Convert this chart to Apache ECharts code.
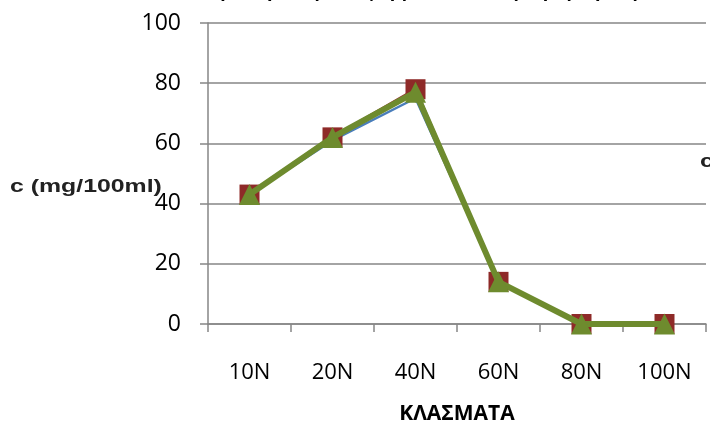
<!DOCTYPE html>
<html>
<head>
<meta charset="utf-8">
<style>
  html, body { margin: 0; padding: 0; background: #fff; }
  #chart { width: 710px; height: 430px; }
</style>
<script src="https://cdn.jsdelivr.net/npm/echarts@6/dist/echarts.min.js"></script>
</head>
<body>
<div id="chart"></div>
<script>
// Fractions on the category axis
const categories = ['10N', '20N', '40N', '60N', '80N', '100N'];
// Concentration per fraction, c (mg/100ml)
const seriesBlue = [43, 61, 75, 14, 0, 0];
const seriesRed = [43, 62, 78, 14, 0, 0];
const seriesGreen = [43, 62, 77, 14, 0, 0];
// Value axis ticks
const yTicks = [0, 20, 40, 60, 80, 100];

const gridColor = '#868686';
const chart = echarts.init(document.getElementById('chart'), null, { renderer: 'canvas' });

chart.setOption({
  animation: false,
  backgroundColor: '#ffffff',
  title: {
    text: 'Συγκέντρωση των φαρμακευτικών (Παραμέτρων)',
    left: 196,
    top: -18,
    padding: 0,
    textStyle: { fontFamily: 'Liberation Sans', fontWeight: 'bold', fontSize: 19, color: '#000' }
  },
  grid: { left: 208, right: 4, top: 23, bottom: 104, containLabel: false },
  xAxis: {
    type: 'category',
    data: categories,
    boundaryGap: true,
    name: 'ΚΛΑΣΜΑΤΑ',
    nameLocation: 'middle',
    nameGap: 80,
    nameTextStyle: { fontFamily: 'Open Sans', fontWeight: 'bold', fontSize: 21, color: '#000' },
    axisLine: { lineStyle: { color: gridColor, width: 1.5 } },
    axisTick: { show: true, alignWithLabel: false, length: 8, lineStyle: { color: gridColor, width: 1.5 } },
    axisLabel: { fontFamily: 'Open Sans', fontSize: 22, color: '#000', margin: 38 }
  },
  yAxis: {
    type: 'value',
    min: yTicks[0],
    max: yTicks[yTicks.length - 1],
    interval: 20,
    axisLine: { show: true, lineStyle: { color: gridColor, width: 1.5 } },
    axisTick: { show: true, inside: false, length: 8, lineStyle: { color: gridColor, width: 1.5 } },
    axisLabel: { fontFamily: 'Open Sans', fontSize: 23, color: '#000', margin: 27 },
    splitLine: { show: true, lineStyle: { color: gridColor, width: 1.5 } }
  },
  graphic: [
    {
      type: 'text',
      x: 10,
      y: 178,
      scaleX: 1.38,
      style: { text: 'c (mg/100ml)', font: 'bold 18px "Liberation Sans"', fill: '#222' }
    },
    {
      type: 'text',
      x: 700,
      y: 153,
      scaleX: 1.38,
      style: { text: 'c (mg/100ml)', font: 'bold 18px "Liberation Sans"', fill: '#222' }
    }
  ],
  series: [
    {
      name: 'blue',
      type: 'line',
      data: seriesBlue,
      z: 2,
      symbol: 'diamond',
      symbolSize: 9,
      lineStyle: { color: '#4A7EBB', width: 2.5 },
      itemStyle: { color: '#4A7EBB' }
    },
    {
      name: 'red',
      type: 'line',
      data: seriesRed,
      z: 3,
      symbol: 'rect',
      symbolSize: 20,
      lineStyle: { color: '#953735', width: 3 },
      itemStyle: { color: '#8E2A28' }
    },
    {
      name: 'green',
      type: 'line',
      data: seriesGreen,
      z: 4,
      symbol: 'triangle',
      symbolSize: 21,
      lineStyle: { color: '#6E8B2E', width: 6 },
      itemStyle: { color: '#6E8B2E' }
    }
  ]
});
</script>
</body>
</html>
